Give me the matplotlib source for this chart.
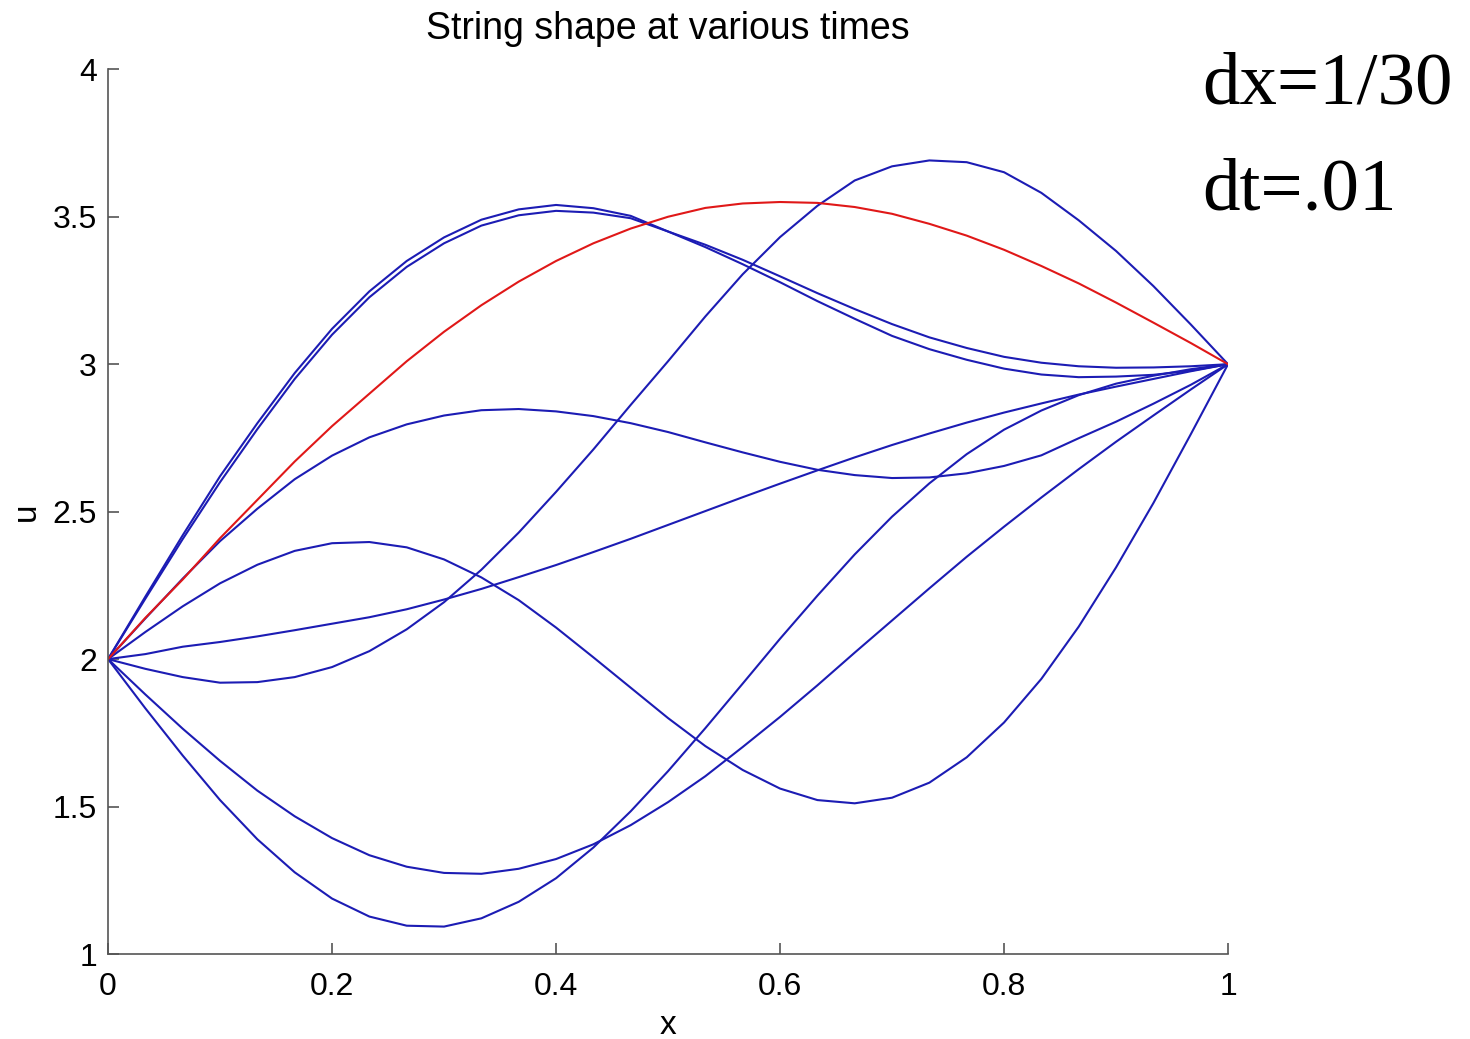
import numpy as np
import matplotlib.pyplot as plt

# grid used by the solver: dx = 1/30
x = np.linspace(0, 1, 31)

# string shapes, u at x = 0, 1/30, ..., 1
u_red = [2.00, 2.14, 2.27, 2.41, 2.54, 2.67, 2.79, 2.90, 3.01, 3.11, 3.20,
         3.28, 3.35, 3.41, 3.46, 3.50, 3.53, 3.545, 3.55, 3.547, 3.533,
         3.51, 3.476, 3.436, 3.388, 3.333, 3.274, 3.209, 3.141, 3.072, 3.00]
u_a1 = [2.00, 2.205, 2.407, 2.60, 2.78, 2.95, 3.10, 3.227, 3.33, 3.41, 3.47,
        3.505, 3.52, 3.514, 3.495, 3.45, 3.405, 3.354, 3.298, 3.241, 3.187,
        3.136, 3.091, 3.055, 3.025, 3.005, 2.993, 2.988, 2.989, 2.993, 3.00]
u_a2 = [2.00, 2.212, 2.42, 2.62, 2.80, 2.97, 3.12, 3.247, 3.35, 3.43, 3.49,
        3.525, 3.54, 3.529, 3.503, 3.45, 3.397, 3.339, 3.278, 3.214, 3.154,
        3.096, 3.051, 3.015, 2.985, 2.965, 2.956, 2.958, 2.964, 2.978, 3.00]
u_b = [2.00, 1.967, 1.939, 1.92, 1.922, 1.939, 1.973, 2.027, 2.101, 2.193,
       2.303, 2.429, 2.567, 2.711, 2.862, 3.01, 3.162, 3.305, 3.431, 3.537,
       3.623, 3.671, 3.691, 3.685, 3.651, 3.581, 3.488, 3.384, 3.265, 3.135,
       3.00]
u_c = [2.00, 2.138, 2.273, 2.40, 2.51, 2.61, 2.69, 2.752, 2.796, 2.826, 2.844,
       2.848, 2.84, 2.824, 2.80, 2.77, 2.735, 2.701, 2.669, 2.642, 2.624,
       2.614, 2.616, 2.63, 2.655, 2.691, 2.749, 2.805, 2.866, 2.93, 3.00]
u_d = [2.00, 2.092, 2.179, 2.257, 2.32, 2.367, 2.393, 2.397, 2.379, 2.338,
       2.277, 2.20, 2.107, 2.006, 1.903, 1.80, 1.705, 1.624, 1.561, 1.522,
       1.511, 1.53, 1.581, 1.667, 1.785, 1.933, 2.11, 2.311, 2.529, 2.762,
       3.00]
u_f = [2.00, 2.017, 2.042, 2.058, 2.077, 2.098, 2.12, 2.142, 2.169, 2.202,
       2.238, 2.278, 2.319, 2.363, 2.408, 2.455, 2.502, 2.549, 2.595, 2.64,
       2.684, 2.726, 2.765, 2.802, 2.836, 2.867, 2.897, 2.924, 2.95, 2.976,
       3.00]
u_g = [2.00, 1.88, 1.764, 1.655, 1.554, 1.467, 1.393, 1.335, 1.296, 1.275,
       1.272, 1.289, 1.322, 1.372, 1.437, 1.515, 1.603, 1.702, 1.804, 1.911,
       2.022, 2.131, 2.24, 2.347, 2.449, 2.548, 2.644, 2.737, 2.826, 2.914,
       3.00]
u_h = [2.00, 1.833, 1.673, 1.522, 1.389, 1.277, 1.188, 1.127, 1.096, 1.093,
       1.121, 1.177, 1.257, 1.361, 1.484, 1.62, 1.766, 1.917, 2.069, 2.215,
       2.355, 2.483, 2.596, 2.695, 2.778, 2.843, 2.895, 2.934, 2.961, 2.983,
       3.00]

blue_shapes = [u_a1, u_a2, u_b, u_c, u_d, u_f, u_g, u_h]

plt.rcParams['font.family'] = ['Liberation Sans', 'DejaVu Sans']

fig = plt.figure(figsize=(14.7, 10.39), dpi=100)
ax = fig.add_axes([0.0735, 0.0818, 0.7619, 0.8515])

for u in blue_shapes:
    ax.plot(x, u, color='#1c1cb4', lw=1.5)
ax.plot(x, u_red, color='#e01818', lw=1.5)

ax.set_xlim(0, 1)
ax.set_ylim(1, 4)
ax.set_xticks([0, 0.2, 0.4, 0.6, 0.8, 1])
ax.set_xticklabels(['0', '0.2', '0.4', '0.6', '0.8', '1'])
ax.set_yticks([1, 1.5, 2, 2.5, 3, 3.5, 4])
ax.set_yticklabels(['1', '1.5', '2', '2.5', '3', '3.5', '4'])
ax.spines['top'].set_visible(False)
ax.spines['right'].set_visible(False)
for s in ['left', 'bottom']:
    ax.spines[s].set_color('#555555')
    ax.spines[s].set_linewidth(1.2)
ax.tick_params(direction='in', length=8, width=1.2, color='#555555',
               labelsize=23)
ax.tick_params(axis='x', pad=13)
ax.tick_params(axis='y', pad=8)

ax.set_title('String shape at various times', fontsize=27, pad=22)
ax.set_xlabel('x', fontsize=24, labelpad=6)
ax.set_ylabel('u', fontsize=24, labelpad=8)

fig.text(0.818, 0.900, 'dx=1/30', fontsize=54, family='Liberation Serif',
         va='baseline')
fig.text(0.818, 0.798, 'dt=.01', fontsize=54, family='Liberation Serif',
         va='baseline')

fig.savefig('out.png', dpi=100)
